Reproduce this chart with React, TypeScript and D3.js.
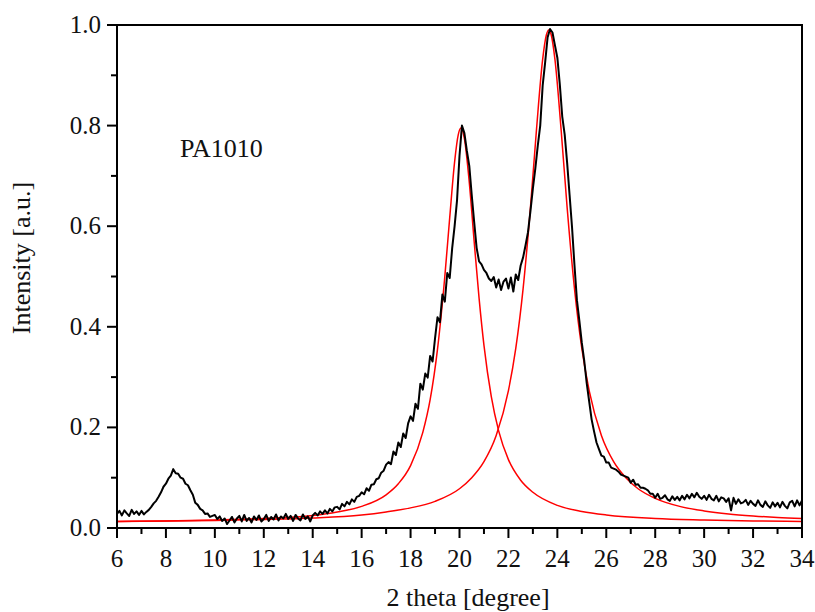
import * as d3 from "d3";

// black trace: measured intensity, one reading every 0.1 degree from 6 to 34
const thetaStart = 6;
const thetaStep = 0.1;
const intensity = [
  0.028, 0.034, 0.025, 0.035, 0.029, 0.024, 0.036, 0.028, 0.033, 0.026,
  0.034, 0.027, 0.032, 0.036, 0.042, 0.049, 0.054, 0.062, 0.071, 0.082,
  0.088, 0.098, 0.104, 0.117, 0.109, 0.108, 0.100, 0.098, 0.088, 0.085,
  0.075, 0.066, 0.050, 0.046, 0.038, 0.035, 0.028, 0.029, 0.022, 0.024,
  0.026, 0.018, 0.023, 0.014, 0.019, 0.008, 0.015, 0.022, 0.011, 0.019,
  0.024, 0.013, 0.026, 0.014, 0.020, 0.011, 0.023, 0.016, 0.025, 0.013,
  0.018, 0.026, 0.014, 0.022, 0.017, 0.027, 0.015, 0.023, 0.019, 0.028,
  0.018, 0.024, 0.014, 0.026, 0.019, 0.015, 0.027, 0.018, 0.023, 0.013,
  0.025, 0.030, 0.025, 0.033, 0.028, 0.035, 0.029, 0.038, 0.033, 0.041,
  0.042, 0.037, 0.048, 0.043, 0.052, 0.047, 0.057, 0.052, 0.062, 0.064,
  0.071, 0.067, 0.079, 0.074, 0.086, 0.087, 0.097, 0.099, 0.110, 0.114,
  0.126, 0.131, 0.127, 0.152, 0.145, 0.170, 0.161, 0.188, 0.179, 0.208,
  0.222, 0.213, 0.247, 0.237, 0.287, 0.275, 0.307, 0.299, 0.342, 0.331,
  0.377, 0.419, 0.409, 0.464, 0.450, 0.507, 0.497, 0.556, 0.600, 0.652,
  0.740, 0.800, 0.785, 0.750, 0.720, 0.662, 0.608, 0.557, 0.530, 0.524,
  0.513, 0.507, 0.496, 0.491, 0.499, 0.478, 0.494, 0.473, 0.490, 0.496,
  0.476, 0.498, 0.470, 0.504, 0.493, 0.522, 0.538, 0.562, 0.588, 0.630,
  0.675, 0.715, 0.760, 0.800, 0.880, 0.925, 0.975, 0.992, 0.985, 0.960,
  0.935, 0.882, 0.818, 0.782, 0.726, 0.662, 0.598, 0.522, 0.453, 0.412,
  0.368, 0.332, 0.288, 0.252, 0.216, 0.192, 0.170, 0.157, 0.144, 0.142,
  0.130, 0.130, 0.120, 0.118, 0.116, 0.112, 0.106, 0.104, 0.102, 0.100,
  0.090, 0.096, 0.086, 0.087, 0.080, 0.080, 0.078, 0.075, 0.068, 0.068,
  0.060, 0.068, 0.058, 0.060, 0.065, 0.057, 0.054, 0.063, 0.056, 0.062,
  0.055, 0.064, 0.057, 0.066, 0.059, 0.068, 0.061, 0.070, 0.062, 0.058,
  0.064, 0.056, 0.066, 0.058, 0.055, 0.064, 0.053, 0.061, 0.059, 0.052,
  0.059, 0.035, 0.060, 0.048, 0.057, 0.049, 0.051, 0.056, 0.046, 0.054,
  0.048, 0.044, 0.055, 0.046, 0.042, 0.053, 0.045, 0.040, 0.051, 0.043,
  0.050, 0.041, 0.052, 0.044, 0.039, 0.051, 0.054, 0.043, 0.055, 0.045,
  0.055,
];

// red fit, peak near 20 degrees
const fit1Theta = [6, 8, 10, 12, 14, 15, 16, 17, 17.5, 18, 18.5, 18.8, 19.1, 19.4, 19.6, 19.8, 19.95, 20.06, 20.2, 20.4, 20.6, 20.8, 21, 21.3, 21.6, 22, 22.5, 23, 24, 25, 26, 28, 30, 32, 34];
const fit1Value = [0.013, 0.014, 0.016, 0.019, 0.025, 0.032, 0.043, 0.066, 0.088, 0.124, 0.190, 0.255, 0.355, 0.500, 0.617, 0.728, 0.782, 0.795, 0.774, 0.687, 0.569, 0.457, 0.363, 0.261, 0.193, 0.136, 0.095, 0.071, 0.045, 0.033, 0.026, 0.019, 0.016, 0.014, 0.013];

// red fit, peak near 23.7 degrees
const fit2Theta = [6, 8, 10, 12, 14, 16, 17, 18, 19, 20, 20.5, 21, 21.5, 22, 22.3, 22.6, 22.9, 23.15, 23.4, 23.55, 23.65, 23.75, 23.9, 24.15, 24.4, 24.7, 25, 25.3, 25.8, 26.3, 26.8, 27.3, 28, 29, 30, 31, 32, 33, 34];
const fit2Value = [0.013, 0.014, 0.015, 0.017, 0.020, 0.026, 0.032, 0.040, 0.053, 0.078, 0.100, 0.132, 0.184, 0.273, 0.357, 0.476, 0.637, 0.794, 0.932, 0.980, 0.990, 0.980, 0.932, 0.794, 0.637, 0.476, 0.357, 0.273, 0.184, 0.132, 0.100, 0.078, 0.059, 0.043, 0.034, 0.028, 0.024, 0.021, 0.019];

const xMajorTicks = [6, 8, 10, 12, 14, 16, 18, 20, 22, 24, 26, 28, 30, 32, 34];
const xMinorTicks = [7, 9, 11, 13, 15, 17, 19, 21, 23, 25, 27, 29, 31, 33];
const yMajorTicks = [0, 0.2, 0.4, 0.6, 0.8, 1.0];
const yMinorTicks = [0.1, 0.3, 0.5, 0.7, 0.9];

const width = 815;
const height = 612;
const plot = { left: 117, right: 802, top: 25, bottom: 528 };
const font = "Liberation Serif";
const textStyle = { fontFamily: font };

export default function App() {
  const x = d3.scaleLinear().domain([6, 34]).range([plot.left, plot.right]);
  const y = d3.scaleLinear().domain([0, 1]).range([plot.bottom, plot.top]);

  const measured = intensity.map((v, i) => [thetaStart + i * thetaStep, v] as [number, number]);
  const fit1 = fit1Theta.map((t, i) => [t, fit1Value[i]] as [number, number]);
  const fit2 = fit2Theta.map((t, i) => [t, fit2Value[i]] as [number, number]);

  const rawLine = d3.line<[number, number]>().x((d) => x(d[0])).y((d) => y(d[1]));
  const smoothLine = d3
    .line<[number, number]>()
    .x((d) => x(d[0]))
    .y((d) => y(d[1]))
    .curve(d3.curveMonotoneX);

  return (
    <svg
      width={width}
      height={height}
      fontFamily={font}
      style={{ position: "absolute", left: 0, top: 0, fontFamily: font }}
    >
      <rect width={width} height={height} fill="#fff" />

      <path d={smoothLine(fit1) ?? ""} fill="none" stroke="#ff0000" strokeWidth={1.5} />
      <path d={smoothLine(fit2) ?? ""} fill="none" stroke="#ff0000" strokeWidth={1.5} />
      <path d={rawLine(measured) ?? ""} fill="none" stroke="#000" strokeWidth={2} strokeLinejoin="round" />

      {/* frame */}
      <rect
        x={plot.left}
        y={plot.top}
        width={plot.right - plot.left}
        height={plot.bottom - plot.top}
        fill="none"
        stroke="#000"
        strokeWidth={2}
      />

      {/* y axis */}
      {yMajorTicks.map((t) => (
        <g key={"ym" + t}>
          <line x1={plot.left - 10} x2={plot.left} y1={y(t)} y2={y(t)} stroke="#000" strokeWidth={2} />
          <text x={plot.left - 16} y={y(t) + 8} textAnchor="end" fontSize={25} style={textStyle} fill="#111">
            {d3.format(".1f")(t)}
          </text>
        </g>
      ))}
      {yMinorTicks.map((t) => (
        <line key={"yn" + t} x1={plot.left - 6} x2={plot.left} y1={y(t)} y2={y(t)} stroke="#000" strokeWidth={2} />
      ))}

      {/* x axis */}
      {xMajorTicks.map((t) => (
        <g key={"xm" + t}>
          <line x1={x(t)} x2={x(t)} y1={plot.bottom} y2={plot.bottom + 10} stroke="#000" strokeWidth={2} />
          <text x={x(t)} y={567} textAnchor="middle" fontSize={25} style={textStyle} fill="#111">
            {t}
          </text>
        </g>
      ))}
      {xMinorTicks.map((t) => (
        <line key={"xn" + t} x1={x(t)} x2={x(t)} y1={plot.bottom} y2={plot.bottom + 6} stroke="#000" strokeWidth={2} />
      ))}

      <text x={468} y={606} textAnchor="middle" fontSize={26} style={textStyle} fill="#111">
        2 theta [degree]
      </text>
      <text transform="rotate(-90)" x={-258} y={30} textAnchor="middle" fontSize={26} style={textStyle} fill="#111">
        Intensity [a.u.]
      </text>

      <text x={180} y={157} fontSize={26} style={textStyle} fill="#111">
        PA1010
      </text>
    </svg>
  );
}
